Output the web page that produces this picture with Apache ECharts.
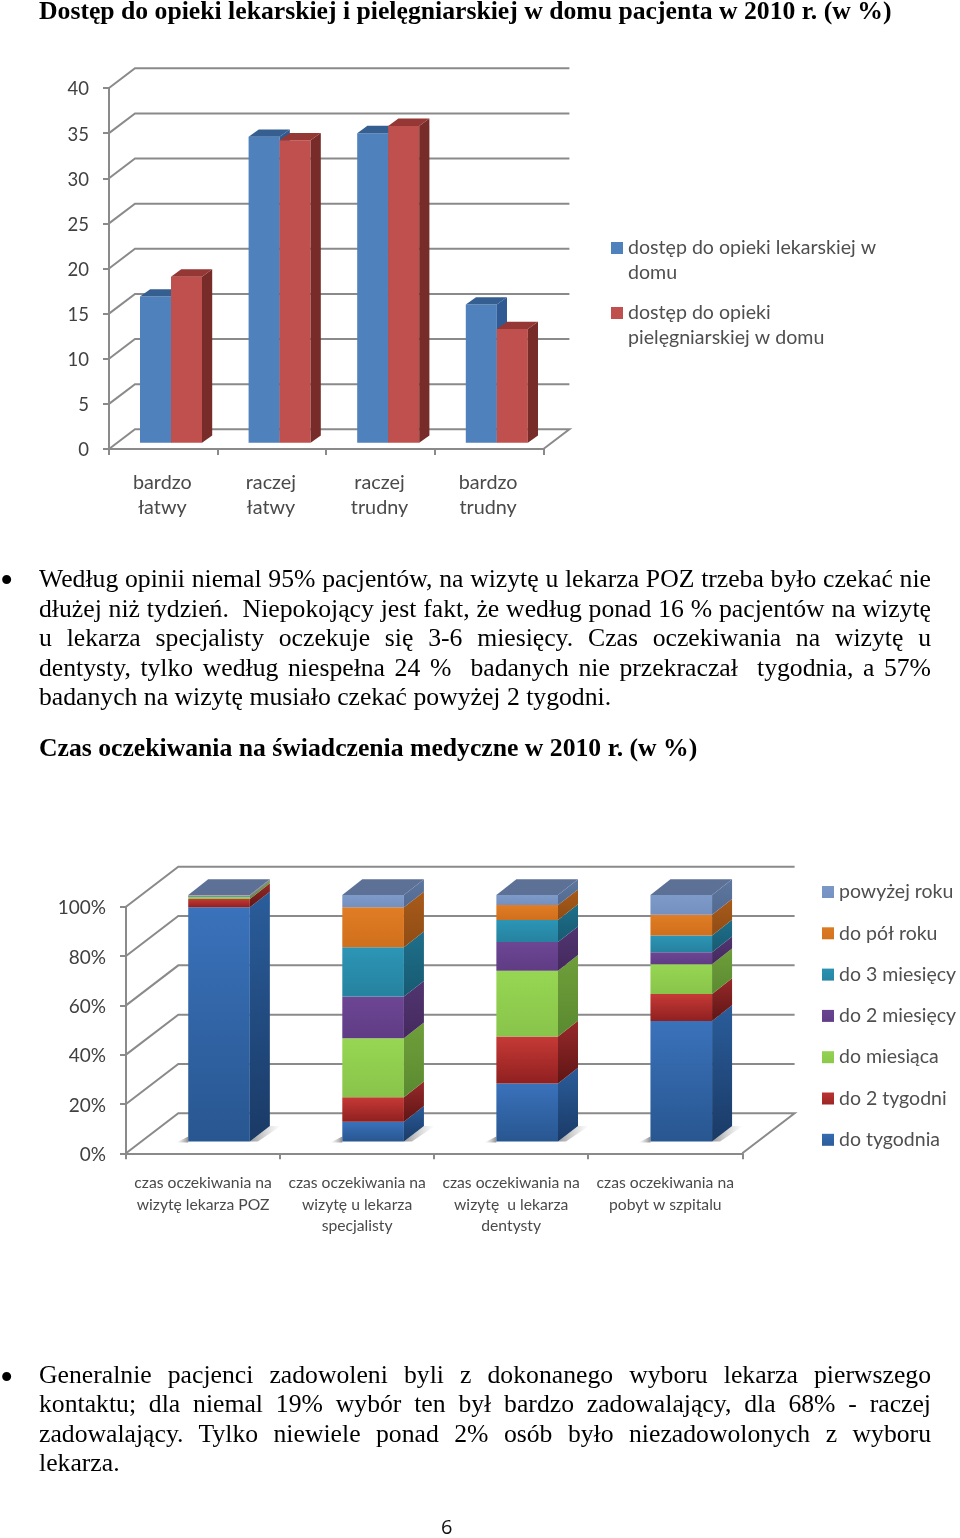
<!DOCTYPE html>
<html lang="pl"><head><meta charset="utf-8">
<script src="https://cdn.jsdelivr.net/npm/echarts@6/dist/echarts.min.js"></script>
<style>
html,body{margin:0;padding:0;background:#fff;width:960px;height:1538px;overflow:hidden}
#c{position:absolute;left:0;top:0;width:960px;height:1538px}
.l{position:absolute;left:39px;width:892px;height:30px;line-height:30px;font-family:"Liberation Serif",serif;font-size:25.7px;color:#000;text-align:justify;text-align-last:justify}
.s{text-align:left;text-align-last:left;width:900px;white-space:nowrap}
.b{position:absolute;left:0;width:14px;height:30px;line-height:30px;font-family:"Liberation Serif",serif;font-size:38px;color:#000}
.p{position:absolute;left:441px;top:1514px;font-family:"Open Sans",sans-serif;font-size:20px;line-height:26px;color:#111}
</style></head><body>
<div id="c"></div>
<div class="b" style="top:565px">•</div>
<div class="l" style="top:564px">Według opinii niemal 95% pacjentów, na wizytę u lekarza POZ trzeba było czekać nie</div>
<div class="l" style="top:594px">dłużej niż tydzień.&nbsp; Niepokojący jest fakt, że według ponad 16 % pacjentów na wizytę</div>
<div class="l" style="top:623px">u lekarza specjalisty oczekuje się 3-6 miesięcy. Czas oczekiwania na wizytę u</div>
<div class="l" style="top:653px">dentysty, tylko według niespełna 24 %&nbsp; badanych nie przekraczał&nbsp; tygodnia, a 57%</div>
<div class="l s" style="top:682px">badanych na wizytę musiało czekać powyżej 2 tygodni.</div>
<div class="b" style="top:1362px">•</div>
<div class="l" style="top:1360px">Generalnie pacjenci zadowoleni byli z dokonanego wyboru lekarza pierwszego</div>
<div class="l" style="top:1389px">kontaktu; dla niemal 19% wybór ten był bardzo zadowalający, dla 68% - raczej</div>
<div class="l" style="top:1419px">zadowalający. Tylko niewiele ponad 2% osób było niezadowolonych z wyboru</div>
<div class="l s" style="top:1448px">lekarza.</div>
<div class="p">6</div>
<script>
// ---- chart 1 data
var accessCategories = ['bardzo\nłatwy', 'raczej\nłatwy', 'raczej\ntrudny', 'bardzo\ntrudny'];
var accessNames = ['dostęp do opieki lekarskiej w\ndomu', 'dostęp do opieki\npielęgniarskiej w domu'];
var doctorAccess = [16.2, 33.9, 34.3, 15.3];
var nurseAccess = [18.4, 33.5, 35.1, 12.6];
var accessTicks = [0, 5, 10, 15, 20, 25, 30, 35, 40];
// ---- chart 2 data
var waitCategories = ['czas oczekiwania na\nwizytę lekarza POZ', 'czas oczekiwania na\nwizytę u lekarza\nspecjalisty', 'czas oczekiwania na\nwizytę  u lekarza\ndentysty', 'czas oczekiwania na\npobyt w szpitalu'];
var waitNames = ['do tygodnia', 'do 2 tygodni', 'do miesiąca', 'do 2 miesięcy', 'do 3 miesięcy', 'do pół roku', 'powyżej roku'];
var upToWeek = [95.0, 8.1, 23.6, 48.9];
var upTo2Weeks = [3.4, 9.9, 19.0, 11.0];
var upToMonth = [0.8, 23.9, 26.7, 12.0];
var upTo2Months = [0.2, 16.9, 11.6, 4.9];
var upTo3Months = [0.2, 20.0, 9.0, 6.8];
var upToHalfYear = [0.2, 16.2, 6.0, 8.4];
var overYear = [0.2, 5.0, 4.1, 8.0];
var waitTicks = [0, 20, 40, 60, 80, 100];

var G = echarts.graphic;
var wallColor = '#8a8a8a';
var labelFont = 'Lato, "Open Sans", sans-serif';
function grad(a, b) { return new G.LinearGradient(0, 0, 0, 1, [{offset: 0, color: a}, {offset: 1, color: b}]); }
function poly(pts, fill, z2) { return {type: 'polygon', shape: {points: pts}, style: {fill: fill}, z2: z2 || 0}; }

function wallSeries(name, xi, yi, dx, dy, data) {
  return {
    type: 'custom', name: name, xAxisIndex: xi, yAxisIndex: yi, z: 1, silent: true,
    encode: {y: 0}, data: data,
    renderItem: function (params, api) {
      var cs = params.coordSys, v = api.value(0), y = api.coord([0, v])[1];
      var x0 = cs.x, xR = cs.x + cs.width;
      var pts = [[x0, y], [x0 + dx, y - dy], [xR + dx, y - dy]];
      if (v === 0) pts.push([xR, y]);
      return {type: 'polyline', shape: {points: pts}, style: {stroke: wallColor, lineWidth: 2, fill: null}};
    }
  };
}

// chart 1: side-by-side 3D columns
function accessSeries(name, idx, values, front, top, side) {
  return {
    type: 'custom', name: name, xAxisIndex: 0, yAxisIndex: 0, z: 3, silent: true,
    itemStyle: {color: front}, encode: {x: 0, y: 1},
    data: values.map(function (v, i) { return [i, v]; }),
    renderItem: function (params, api) {
      var c = api.coord([api.value(0), api.value(1)]);
      var base = api.coord([api.value(0), 0]);
      var band = api.size([1, 0])[0], w = band * 0.2855;
      var x = c[0] + 7.7 - w + idx * w, yT = c[1] - 6.3, yB = base[1] - 6.3, dx = 10.2, dy = 7.3;
      return {type: 'group', children: [
        {type: 'rect', shape: {x: x, y: yT, width: w, height: yB - yT}, style: {fill: front}},
        poly([[x + w, yT], [x + w + dx, yT - dy], [x + w + dx, yB - dy], [x + w, yB]], side),
        poly([[x, yT], [x + dx, yT - dy], [x + w + dx, yT - dy], [x + w, yT]], top)
      ]};
    }
  };
}

// chart 2: stacked 3D columns
var stackRows = [upToWeek, upTo2Weeks, upToMonth, upTo2Months, upTo3Months, upToHalfYear, overYear];
var stackStyles = [
  ['#3a72bb', '#285690', '#2a5d9b', '#1a3a66'],
  ['#c63a36', '#8f2020', '#98292a', '#5f1515'],
  ['#97d653', '#88c44a', '#6f9f3a', '#5a8a30'],
  ['#6d4694', '#5f3c84', '#523570', '#44295e'],
  ['#2c95b6', '#26829f', '#1f6f8a', '#175a72'],
  ['#e07d25', '#d06f1c', '#a85b1a', '#8f4c14'],
  ['#7d9ac9', '#7490c0', '#5e779f', '#526a92']
];
function stackSeries(k) {
  var st = stackStyles[k], cum = [0, 0, 0, 0];
  for (var r = 0; r < k; r++) stackRows[r].forEach(function (v, i) { cum[i] += v; });
  return {
    type: 'custom', name: waitNames[k], xAxisIndex: 1, yAxisIndex: 1, z: 3, silent: true,
    itemStyle: {color: grad(st[0], st[1])}, encode: {x: 0, y: [1, 2]},
    data: stackRows[k].map(function (v, i) { return [i, cum[i], cum[i] + v]; }),
    renderItem: function (params, api) {
      var i = api.value(0), band = api.size([1, 0])[0], w = band * 0.4;
      var cx = api.coord([i, 0])[0] + 16;
      var x = cx - w / 2, yB = api.coord([i, api.value(1)])[1] - 11.7, yT = api.coord([i, api.value(2)])[1] - 11.7;
      var dx = 20, dy = 15.7, kids = [];
      if (k === 0) {
        var fade = new G.LinearGradient(0, 0, 1, 0, [{offset: 0, color: '#9a9a9a'}, {offset: 1, color: 'rgba(190,190,190,0)'}]);
        var fadeL = new G.LinearGradient(0, 0, 1, 0, [{offset: 0, color: 'rgba(190,190,190,0)'}, {offset: 1, color: '#8f8f8f'}]);
        kids.push(poly([[x + w, yB], [x + w + dx, yB - dy], [x + w + 31, yB - dy], [x + w + 8, yB]], fade));
        kids.push(poly([[x - 12, yB + 1], [x, yB - 5], [x, yB + 1]], fadeL));
      }
      kids.push({type: 'rect', shape: {x: x, y: yT, width: w, height: yB - yT}, style: {fill: grad(st[0], st[1])}});
      kids.push(poly([[x + w, yT], [x + w + dx, yT - dy], [x + w + dx, yB - dy], [x + w, yB]], grad(st[2], st[3])));
      if (k === stackRows.length - 1) kids.push(poly([[x, yT], [x + dx, yT - dy], [x + w + dx, yT - dy], [x + w, yT]], '#5d7196'));
      return {type: 'group', children: kids};
    }
  };
}

var axisLine = {show: true, lineStyle: {color: wallColor, width: 2}};
var chart = echarts.init(document.getElementById('c'), null, {renderer: 'canvas'});
var option = {
  animation: false, backgroundColor: '#fff',
  title: [
    {text: 'Dostęp do opieki lekarskiej i pielęgniarskiej w domu pacjenta w 2010 r. (w %)', left: 39, top: -1, padding: 0,
      textStyle: {fontFamily: '"Liberation Serif", serif', fontWeight: 'bold', fontSize: 25.7, color: '#000', lineHeight: 26}},
    {text: 'Czas oczekiwania na świadczenia medyczne w 2010 r. (w %)', left: 39, top: 736, padding: 0,
      textStyle: {fontFamily: '"Liberation Serif", serif', fontWeight: 'bold', fontSize: 25.7, color: '#000', lineHeight: 26}}
  ],
  grid: [
    {left: 109, top: 88, width: 434.4, height: 361},
    {left: 126, top: 906.7, width: 616.3, height: 246.6}
  ],
  xAxis: [
    {type: 'category', gridIndex: 0, data: accessCategories, axisLine: axisLine,
      axisTick: {show: true, length: 6, lineStyle: {color: wallColor, width: 2}},
      axisLabel: {interval: 0, margin: 21, padding: [0, 2, 0, 0], fontFamily: labelFont, fontSize: 19.8, lineHeight: 25, color: '#4a4a4a'}},
    {type: 'category', gridIndex: 1, data: waitCategories, axisLine: axisLine,
      axisTick: {show: true, length: 6, lineStyle: {color: wallColor, width: 2}},
      axisLabel: {interval: 0, margin: 19, fontFamily: labelFont, fontSize: 15.7, lineHeight: 21.5, color: '#4a4a4a'}}
  ],
  yAxis: [
    {type: 'value', gridIndex: 0, min: accessTicks[0], max: accessTicks[accessTicks.length - 1], interval: 5,
      axisLine: axisLine, splitLine: {show: false},
      axisTick: {show: true, length: 6, lineStyle: {color: wallColor, width: 2}},
      axisLabel: {margin: 20, verticalAlign: 'top', lineHeight: 3, fontFamily: labelFont, fontSize: 18.5, color: '#404040'}},
    {type: 'value', gridIndex: 1, min: waitTicks[0], max: waitTicks[waitTicks.length - 1], interval: 20,
      axisLine: axisLine, splitLine: {show: false},
      axisTick: {show: true, length: 6, lineStyle: {color: wallColor, width: 2}},
      axisLabel: {margin: 20, verticalAlign: 'top', lineHeight: 3, formatter: '{value}%', fontFamily: labelFont, fontSize: 19, color: '#404040'}}
  ],
  legend: [
    {data: accessNames, orient: 'vertical', left: 611, top: 235, padding: 0, itemGap: 15, itemWidth: 12, itemHeight: 50,
      icon: 'path://M0 7H12V19H0Z M0 0L0 0 M12 50L12 50', selectedMode: false, itemStyle: {borderWidth: 0},
      textStyle: {fontFamily: labelFont, fontSize: 19.6, lineHeight: 25, color: '#4f4f4f'}},
    {data: waitNames.slice().reverse(), orient: 'vertical', left: 822, top: 881, padding: 0, itemGap: 19.3, itemWidth: 12, itemHeight: 22,
      icon: 'path://M0 5H12V17H0Z M0 0L0 0 M12 22L12 22', selectedMode: false, itemStyle: {borderWidth: 0},
      textStyle: {fontFamily: labelFont, fontSize: 19.5, lineHeight: 22, color: '#4f4f4f'}}
  ],
  series: [
    wallSeries('ściana 1', 0, 0, 26, 19.7, accessTicks),
    wallSeries('ściana 2', 1, 1, 52.3, 40, waitTicks),
    accessSeries(accessNames[0], 0, doctorAccess, '#4f81bd', '#365f91', '#2f5a94'),
    accessSeries(accessNames[1], 1, nurseAccess, '#c0504d', '#953735', '#772c2a')
  ].concat(stackRows.map(function (_, k) { return stackSeries(k); }))
};
chart.setOption(option);
</script>
</body></html>
